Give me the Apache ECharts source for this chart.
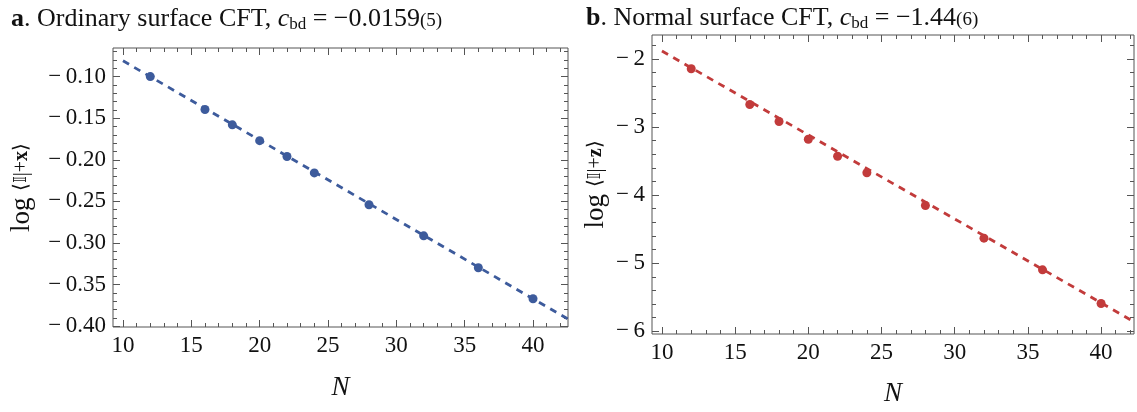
<!DOCTYPE html>
<html lang="en">
<head>
<meta charset="UTF-8">
<title>surface CFT</title>
<script src="https://cdn.jsdelivr.net/npm/echarts@6/dist/echarts.min.js"></script>
<style>
  html, body { margin: 0; padding: 0; background: #fff; }
  #main { width: 1137px; height: 412px; }
</style>
</head>
<body>
<div id="main"></div>
<script>
// sizes N and measured values
var sizes = [12, 16, 18, 20, 22, 24, 28, 32, 36, 40];
var valuesA = [-0.100, -0.1396, -0.158, -0.177, -0.196, -0.2158, -0.254, -0.2914, -0.3298, -0.367];
var valuesB = [-2.145, -2.67, -2.92, -3.18, -3.43, -3.673, -4.153, -4.633, -5.098, -5.593];
// fitted lines (end points)
var fitA = [[10, -0.081], [42.56, -0.3915]];
var fitB = [[10, -1.885], [42.25, -5.86]];
// tick labels
var xTicks = [10, 15, 20, 25, 30, 35, 40];
var yTicksA = [-0.40, -0.35, -0.30, -0.25, -0.20, -0.15, -0.10];
var yTicksB = [-6, -5, -4, -3, -2];

var minorX = [];
for (var i = 10; i <= 42; i++) minorX.push(i);
var minorYA = [];
for (var k = -40; k <= -7; k++) minorYA.push(k / 100);
var minorYB = [];
for (var m = -30; m <= -9; m++) minorYB.push(Math.round(m * 0.2 * 10) / 10);

var blue = '#3d5b9c', red = '#c23b3b', frame = '#555';
var serif = 'Liberation Serif';

function fmt(v) {
  var s = Math.abs(v) < 1 && v !== 0 ? v.toFixed(2) : String(v);
  return s.replace('-', '\u2212\u2009');
}

// one axis that draws only ticks (and maybe labels)
function tickAxis(gi, pos, min, max, ticks, len, labels) {
  var ax = {
    type: 'value', gridIndex: gi, position: pos, min: min, max: max,
    axisLine: { show: false },
    splitLine: { show: false },
    axisTick: { show: true, inside: true, length: len, customValues: ticks,
                lineStyle: { color: frame, width: 1 } },
    axisLabel: { show: false }
  };
  if (labels) {
    ax.axisLabel = { show: true, customValues: ticks, formatter: fmt,
                     fontFamily: serif, fontSize: 23, color: '#111', margin: 7 };
  }
  return ax;
}

var grids = [
  { left: 113, top: 48, width: 455, height: 279, show: true, borderColor: frame, borderWidth: 1, backgroundColor: '#fff' },
  { left: 652, top: 35, width: 482, height: 302, show: true, borderColor: frame, borderWidth: 1, backgroundColor: '#fff' }
];
var ranges = [
  { x: [9.27, 42.56], y: [-0.401, -0.0656], yt: yTicksA, ym: minorYA },
  { x: [9.32, 42.25], y: [-6.04, -1.65], yt: yTicksB, ym: minorYB }
];

var xAxes = [], yAxes = [];
ranges.forEach(function (r, gi) {
  var xb = tickAxis(gi, 'bottom', r.x[0], r.x[1], xTicks, 7, true);
  xb.name = 'N';
  xb.nameLocation = 'middle';
  xb.nameGap = gi === 0 ? 47 : 46;
  xb.nameTextStyle = { fontFamily: serif, fontStyle: 'italic', fontSize: 27, color: '#111' };
  xAxes.push(xb,
    tickAxis(gi, 'top', r.x[0], r.x[1], xTicks, 7, false),
    tickAxis(gi, 'bottom', r.x[0], r.x[1], minorX, 4, false),
    tickAxis(gi, 'top', r.x[0], r.x[1], minorX, 4, false));

  var yl = tickAxis(gi, 'left', r.y[0], r.y[1], r.yt, 7, true);
  yl.name = gi === 0 ? '{l|log }{m|\u27e8}{d|\ud835\udd40}{m||+}{x|x}{m|\u27e9}'
                     : '{l|log }{m|\u27e8}{d|\ud835\udd40}{m||+}{x|z}{m|\u27e9}';
  yl.nameLocation = 'middle';
  yl.nameRotate = 90;
  yl.nameGap = gi === 0 ? 78 : 43;
  yl.nameTextStyle = {
    color: '#111',
    rich: {
      l: { fontFamily: serif, fontSize: 27, color: '#111' },
      m: { fontFamily: serif, fontSize: 20, color: '#111' },
      d: { fontFamily: 'DejaVu Sans', fontSize: 17, color: '#111' },
      x: { fontFamily: serif, fontSize: 20, fontWeight: 'bold', color: '#111' }
    }
  };
  yAxes.push(yl,
    tickAxis(gi, 'right', r.y[0], r.y[1], r.yt, 7, false),
    tickAxis(gi, 'left', r.y[0], r.y[1], r.ym, 4, false),
    tickAxis(gi, 'right', r.y[0], r.y[1], r.ym, 4, false));
});

function pairs(xs, ys) {
  return xs.map(function (x, i) { return [x, ys[i]]; });
}

var titleRich = {
  b: { fontFamily: serif, fontSize: 26, fontWeight: 'bold', color: '#111' },
  r: { fontFamily: serif, fontSize: 26, fontWeight: 'normal', color: '#111' },
  i: { fontFamily: serif, fontSize: 26, fontWeight: 'normal', fontStyle: 'italic', color: '#111' },
  s: { fontFamily: serif, fontSize: 17, fontWeight: 'normal', color: '#111', padding: [10, 0, 0, 0] },
  p: { fontFamily: serif, fontSize: 19, fontWeight: 'normal', color: '#111', padding: [4, 0, 0, 0] }
};

var option = {
  animation: false,
  backgroundColor: '#fff',
  title: [
    { left: 6, top: 1, text: '{b|a}{r|. Ordinary surface CFT, }{i|c}{s|bd}{r| = \u22120.0159}{p|(5)}',
      textStyle: { fontWeight: 'normal', rich: titleRich } },
    { left: 581, top: 0, text: '{b|b}{r|. Normal surface CFT, }{i|c}{s|bd}{r| = \u22121.44}{p|(6)}',
      textStyle: { fontWeight: 'normal', rich: titleRich } }
  ],
  grid: grids,
  xAxis: xAxes,
  yAxis: yAxes,
  series: [
    { type: 'line', xAxisIndex: 0, yAxisIndex: 0, data: fitA, showSymbol: false, symbol: 'none',
      lineStyle: { color: blue, width: 2.8, type: [7, 6] }, z: 2 },
    { type: 'scatter', xAxisIndex: 0, yAxisIndex: 0, data: pairs(sizes, valuesA),
      symbolSize: 9, itemStyle: { color: blue, opacity: 1 }, z: 3 },
    { type: 'line', xAxisIndex: 4, yAxisIndex: 4, data: fitB, showSymbol: false, symbol: 'none',
      lineStyle: { color: red, width: 2.8, type: [7, 6] }, z: 2 },
    { type: 'scatter', xAxisIndex: 4, yAxisIndex: 4, data: pairs(sizes, valuesB),
      symbolSize: 9, itemStyle: { color: red, opacity: 1 }, z: 3 }
  ]
};

var chart = echarts.init(document.getElementById('main'));
chart.setOption(option);
</script>
</body>
</html>
